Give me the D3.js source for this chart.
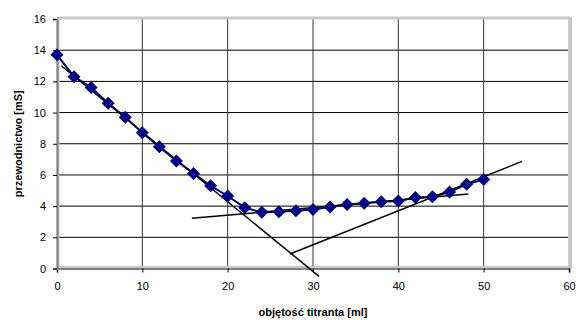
<!DOCTYPE html>
<html>
<head>
<meta charset="utf-8">
<script src="https://cdn.jsdelivr.net/npm/d3@7"></script>
<style>
  body { margin: 0; background: #fff; }
  svg { font-family: "Liberation Sans", Arial, sans-serif; }
</style>
</head>
<body>
<svg id="chart" width="576" height="320"></svg>
<script>
// measured conductivity vs titrant volume
const volume = [0, 2, 4, 6, 8, 10, 12, 14, 16, 18, 20, 22, 24, 26, 28, 30, 32, 34, 36, 38, 40, 42, 44, 46, 48, 50];
const conductivity = [13.7, 12.3, 11.6, 10.6, 9.7, 8.7, 7.8, 6.9, 6.1, 5.3, 4.65, 3.9, 3.6, 3.64, 3.7, 3.78, 3.95, 4.1, 4.18, 4.28, 4.33, 4.55, 4.6, 4.9, 5.4, 5.7];

// hand-drawn tangent lines [x1, y1, x2, y2]
const tangents = [
  [0.5, 13.0, 30.7, -0.5],
  [15.8, 3.22, 48.2, 4.78],
  [27.3, 0.93, 54.5, 6.87]
];

const xTicks = [0, 10, 20, 30, 40, 50, 60];
const yTicks = [0, 2, 4, 6, 8, 10, 12, 14, 16];

const svg = d3.select("#chart");
const margin = { top: 19, right: 7, bottom: 51.5, left: 57 };
const width = 576 - margin.left - margin.right;
const height = 320 - margin.top - margin.bottom;

const g = svg.append("g")
  .attr("transform", `translate(${margin.left},${margin.top})`);

const x = d3.scaleLinear().domain([0, 60]).range([0, width]);
const y = d3.scaleLinear().domain([0, 16]).range([height, 0]);

// grid
g.selectAll(".hgrid").data(yTicks.slice(1, -1)).join("line")
  .attr("x1", 0).attr("x2", width)
  .attr("y1", d => y(d)).attr("y2", d => y(d))
  .attr("stroke", "#000").attr("stroke-width", 1);
g.selectAll(".vgrid").data(xTicks.slice(1, -1)).join("line")
  .attr("x1", d => x(d)).attr("x2", d => x(d))
  .attr("y1", 0).attr("y2", height)
  .attr("stroke", "#333").attr("stroke-width", 1);

// frame: light shadow on top/right, gray axes on left/bottom
g.append("line").attr("x1", 0).attr("x2", width + 2).attr("y1", -1).attr("y2", -1)
  .attr("stroke", "#c8c8c8").attr("stroke-width", 3);
g.append("line").attr("x1", width + 1).attr("x2", width + 1).attr("y1", -2).attr("y2", height)
  .attr("stroke", "#c8c8c8").attr("stroke-width", 4);
g.append("line").attr("x1", 1).attr("x2", 1).attr("y1", 0).attr("y2", height)
  .attr("stroke", "#c8c8c8").attr("stroke-width", 3);
g.append("line").attr("x1", 0).attr("x2", width).attr("y1", height - 1).attr("y2", height - 1)
  .attr("stroke", "#c8c8c8").attr("stroke-width", 3);

// axes
const xAxis = g.append("g")
  .attr("transform", `translate(0,${height})`)
  .call(d3.axisBottom(x).tickValues(xTicks).tickSize(4).tickPadding(10));
const yAxis = g.append("g")
  .call(d3.axisLeft(y).tickValues(yTicks).tickSize(4).tickPadding(7));
[xAxis, yAxis].forEach(a => {
  a.select(".domain").attr("stroke", "#808080").attr("stroke-width", 2);
  a.selectAll("text").attr("font-size", 11).attr("fill", "#000")
    .attr("font-family", "Liberation Sans, Arial, sans-serif");
  a.selectAll(".tick line").attr("stroke", "#000");
});

// data series
const pts = volume.map((v, i) => [v, conductivity[i]]);
g.append("path")
  .datum(pts)
  .attr("fill", "none")
  .attr("stroke", "#000080")
  .attr("stroke-width", 2)
  .attr("d", d3.line().x(d => x(d[0])).y(d => y(d[1])));

// tangents
g.selectAll(".tangent").data(tangents).join("line")
  .attr("x1", d => x(d[0])).attr("y1", d => y(d[1]))
  .attr("x2", d => x(d[2])).attr("y2", d => y(d[3]))
  .attr("stroke", "#000").attr("stroke-width", 1.5);

// diamond markers
g.selectAll(".pt").data(pts).join("path")
  .attr("transform", d => `translate(${x(d[0])},${y(d[1])})`)
  .attr("d", "M0,-6.5L6.5,0L0,6.5L-6.5,0Z")
  .attr("fill", "#000080");

// axis titles
svg.append("text")
  .attr("x", margin.left + x(30)).attr("y", 316)
  .attr("text-anchor", "middle")
  .attr("font-size", 11).attr("font-weight", "bold")
  .text("objętość titranta [ml]");
svg.append("text")
  .attr("transform", `translate(22,${margin.top + height / 2}) rotate(-90)`)
  .attr("text-anchor", "middle")
  .attr("font-size", 11).attr("font-weight", "bold")
  .text("przewodnictwo [mS]");
</script>
</body>
</html>
